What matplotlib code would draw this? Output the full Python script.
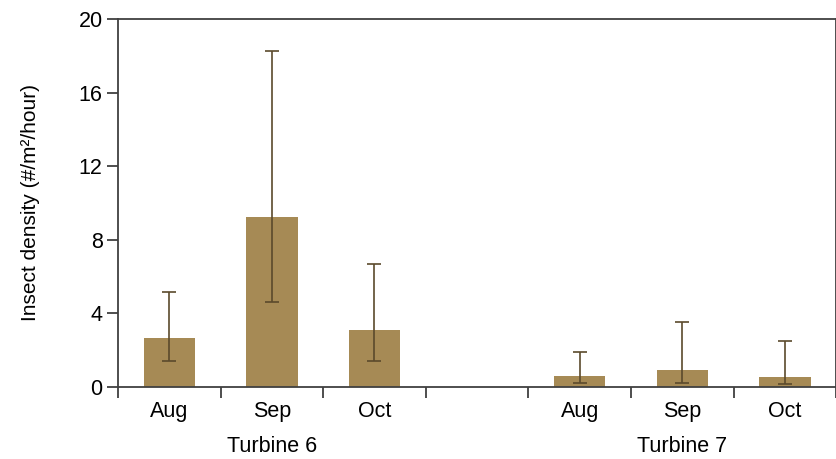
import numpy as np
import matplotlib
matplotlib.use("Agg")
import matplotlib.pyplot as plt

plt.rcParams['font.family'] = ['Liberation Sans', 'DejaVu Sans']

months = ['Aug', 'Sep', 'Oct']
groups = ['Turbine 6', 'Turbine 7']

# mean, lower and upper limits of error bars
t6_mean = [2.65, 9.21, 3.09]
t6_low = [1.38, 4.63, 1.42]
t6_high = [5.14, 18.26, 6.65]

t7_mean = [0.57, 0.89, 0.53]
t7_low = [0.18, 0.22, 0.15]
t7_high = [1.90, 3.54, 2.47]

bar_color = '#a68a55'
err_color = '#5b4a2c'
axis_color = '#404040'
fs = 15.5

fig = plt.figure(figsize=(8.37, 4.59), dpi=100)
ax = fig.add_axes([0.141, 0.1575, 0.858, 0.801])

pos6 = np.arange(3)
pos7 = np.arange(4, 7)
for pos, mean, low, high in [(pos6, t6_mean, t6_low, t6_high),
                             (pos7, t7_mean, t7_low, t7_high)]:
    mean = np.array(mean)
    yerr = [mean - np.array(low), np.array(high) - mean]
    ax.bar(pos, mean, width=0.5, color=bar_color, zorder=2)
    ax.errorbar(pos, mean, yerr=yerr, fmt='none', ecolor=err_color,
                elinewidth=1.2, capsize=5, capthick=1.2, zorder=3)

ax.set_xlim(-0.5, 6.5)
ax.set_ylim(0, 20)
ax.set_yticks([0, 4, 8, 12, 16, 20])

# tick marks at slot boundaries, month labels at bar centres
ax.set_xticks(np.arange(-0.5, 7, 1))
ax.set_xticklabels([])
ax.set_xticks(list(pos6) + list(pos7), minor=True)
ax.set_xticklabels(months + months, minor=True)
ax.tick_params(axis='x', which='minor', length=0, pad=10, labelsize=fs)
ax.tick_params(axis='x', which='major', length=8, width=1.3,
               direction='out', color=axis_color)
ax.tick_params(axis='y', length=8, width=1.3, color=axis_color,
               labelsize=fs, pad=3)

for s in ax.spines.values():
    s.set_color(axis_color)
    s.set_linewidth(1.3)

ax.set_ylabel('Insect density (#/m²/hour)', fontsize=15, labelpad=28)

ax.text(1, -0.135, groups[0], transform=ax.get_xaxis_transform(),
        ha='center', va='top', fontsize=fs)
ax.text(5, -0.135, groups[1], transform=ax.get_xaxis_transform(),
        ha='center', va='top', fontsize=fs)

fig.savefig('out.png', dpi=100)
